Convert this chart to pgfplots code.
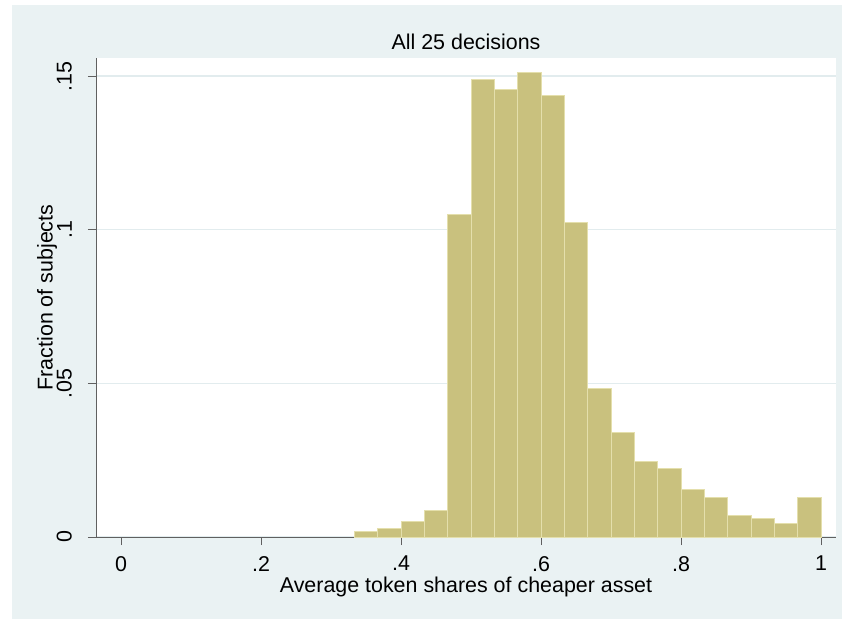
\documentclass[border=0pt]{standalone}
\usepackage{pgfplots}
\pgfplotsset{compat=1.18}
\usepackage{fontspec}
\setmainfont{Liberation Sans}
\definecolor{bgc}{RGB}{234,242,243}
\definecolor{gridc}{RGB}{226,236,238}
\definecolor{barc}{RGB}{201,193,126}
\definecolor{bare}{RGB}{228,223,172}
\definecolor{axc}{RGB}{96,96,96}
\begin{document}
\fontsize{21.5}{25}\selectfont
\begin{tikzpicture}
\path (-96bp,-82bp) rectangle (746bp,537bp);
\fill[bgc] (-84bp,-82bp) rectangle (746bp,532bp);
\begin{axis}[
  scale only axis, width=740bp, height=479bp,
  at={(0,0)}, anchor=south west,
  xmin=-0.0357, xmax=1.0214, ymin=0, ymax=0.1559,
  clip=false,
  axis background/.style={fill=white},
  axis x line*=bottom, axis y line*=left,
  axis line style={axc, line width=1pt, -},
  xtick={0,0.2,0.4,0.6,0.8,1}, xticklabels={0,.2,.4,.6,.8,1},
  ytick={0,0.05,0.1,0.15}, yticklabels={0,.05,.1,.15},
  tick style={axc, line width=0.8pt}, tick align=outside, major tick length=8bp,
  ymajorgrids, grid style={gridc, line width=1.5pt},
  xticklabel style={anchor=north, inner sep=0pt, yshift=-11bp},
  yticklabel style={rotate=90, anchor=south, inner sep=0pt, yshift=16bp},
  tick label style={font=\fontsize{21.5}{25}\selectfont},
]
\addplot[ybar interval, fill=barc, draw=bare, line width=1pt] coordinates {
(0.3333,0.0017) (0.3667,0.0028) (0.4,0.0052) (0.4333,0.0086) (0.4667,0.1050)
(0.5,0.1488) (0.5333,0.1455) (0.5667,0.1513) (0.6,0.1438) (0.6333,0.1023)
(0.6667,0.0484) (0.7,0.0341) (0.7333,0.0247) (0.7667,0.0222) (0.8,0.0154)
(0.8333,0.0129) (0.8667,0.0069) (0.9,0.0061) (0.9333,0.0043) (0.9667,0.0129)
(1.0,0.0129)};
\node[anchor=center, inner sep=0pt] at (rel axis cs:0.5,1) [yshift=16bp] {All 25 decisions};
\node[anchor=center, inner sep=0pt] at (rel axis cs:0.5,0) [yshift=-50bp] {Average token shares of cheaper asset};
\node[xshift=-49bp, rotate=90, anchor=center, inner sep=0pt] at (rel axis cs:0,0.5) {Fraction of subjects};
\end{axis}
\end{tikzpicture}
\end{document}
